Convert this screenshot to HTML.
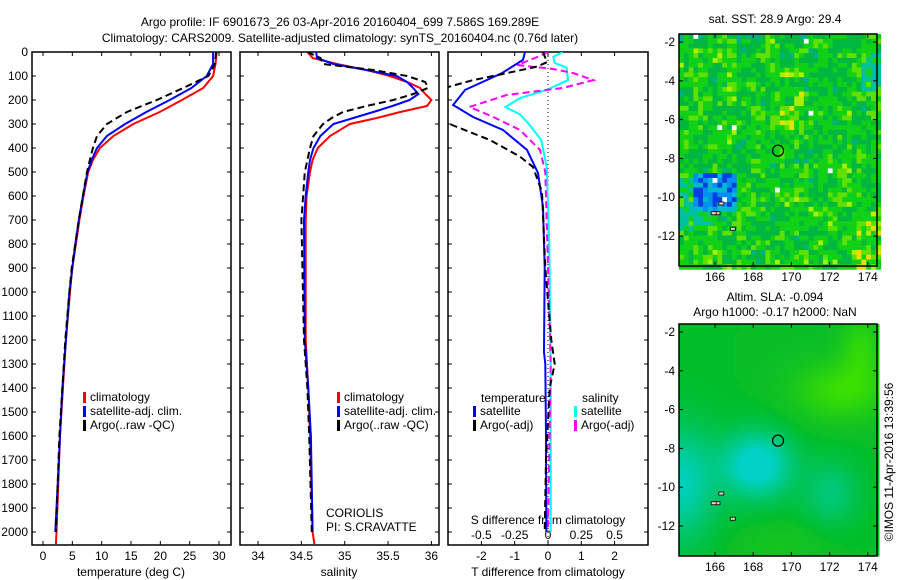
<!DOCTYPE html>
<html><head><meta charset="utf-8">
<style>
body{margin:0;background:#fff;}
svg{display:block;font-family:"Liberation Sans",sans-serif;font-size:12px;}
</style></head>
<body>
<svg id="fig" width="900" height="580" viewBox="0 0 900 580"></svg>
<script>
// ---- data ----
const tempDepth = [0,50,100,150,200,250,300,350,400,450,500,600,700,800,900,1000,1200,1400,1600,1800,2000,2050];
const tempClim  = [29.6,29.4,29.0,27.3,23.7,19.9,15.4,12.0,9.7,8.5,7.7,6.9,6.2,5.6,5.0,4.6,3.9,3.4,2.9,2.6,2.3,2.2];
const tempSat   = [29.0,29.0,27.9,25.3,21.6,17.6,14.0,10.9,9.2,8.3,7.6,6.8,6.1,5.5,5.0,4.5,3.9,3.3,2.9,2.5,2.1];
const tempArgo  = [29.5,29.3,28.2,23.9,19.4,14.3,10.9,9.2,8.5,8.0,7.5,6.8,6.1,5.5,4.9,4.5,3.8,3.3,2.8,2.5,2.2];
const salDepth  = [0,25,50,75,100,125,150,175,200,225,250,275,300,350,400,450,500,600,700,1200,1400,1600,2000,2050];
const salClim   = [34.57,34.63,34.91,35.25,35.52,35.72,35.87,35.93,36.0,35.95,35.64,35.37,35.06,34.83,34.69,34.63,34.6,34.56,34.55,34.55,34.58,34.6,34.63,34.65];
const salSat    = [34.67,34.68,34.87,35.25,35.6,35.72,35.79,35.85,35.75,35.55,35.33,35.1,34.87,34.72,34.64,34.6,34.58,34.55,34.53,34.54,34.58,34.61,34.63];
const salArgo   = [34.57,34.72,34.75,35.33,35.72,35.93,35.96,35.79,35.56,35.25,34.98,34.85,34.75,34.64,34.6,34.57,34.54,34.52,34.5,34.53,34.57,34.59,34.62];
const dtDepth   = [0,33,88,158,221,271,325,408,504,646,900,1250,1300,1600,2000];
const dtSat     = [-0.69,-0.75,-1.38,-2.49,-2.85,-2.25,-1.35,-0.63,-0.30,-0.15,-0.10,-0.12,-0.08,-0.06,-0.05];
const daDepth   = [0,42,61,88,117,146,200,260,304,367,436,479,583,900,1200,1300,1400,1700,2000];
const dtArgo    = [-0.15,-0.03,-0.33,-1.23,-2.25,-3.0,-3.6,-3.6,-2.88,-1.74,-0.84,-0.45,-0.18,-0.08,0.1,0.2,0.05,-0.06,-0.1];
const dsDepth   = [0,20,46,65,117,158,192,229,260,296,367,479,800,1300,2000];
const dsSat     = [0.11,0.04,0.05,0.14,0.15,-0.01,-0.21,-0.32,-0.21,-0.15,-0.05,-0.01,0.01,0.02,0.02];
const dmDepth   = [0,21,54,71,88,117,150,179,229,271,325,408,500,1300,2000];
const dsArgo    = [0.0,-0.08,-0.23,0.04,0.19,0.34,0.11,-0.31,-0.59,-0.41,-0.21,-0.06,-0.02,0.02,0.0];
const depthTicks = [0,100,200,300,400,500,600,700,800,900,1000,1100,1200,1300,1400,1500,1600,1700,1800,1900,2000];
const tempTicks = [0,5,10,15,20,25,30];
const salTicks = [34,34.5,35,35.5,36];
const dtTicks = [-2,-1,0,1,2];
const dsTicks = [-0.5,-0.25,0,0.25,0.5];
const latTicks = [-2,-4,-6,-8,-10,-12];
const lonTicks = [166,168,170,172,174];
const floatLon = 169.3, floatLat = -7.6;

const NS="http://www.w3.org/2000/svg";
const svg=document.getElementById('fig');
function el(tag,attrs,parent){const e=document.createElementNS(NS,tag);for(const k in attrs)e.setAttribute(k,attrs[k]);(parent||svg).appendChild(e);return e;}
function txt(x,y,s,anchor,parent){const t=el('text',{x:x,y:y,'text-anchor':anchor||'start',fill:'#000'},parent);t.textContent=s;return t;}

// scales
const Y=d=>52+d*0.24;
const TX=v=>43+v*(176/30);
const SX=v=>258+(v-34)*86.7;
const DX=v=>548+v*33.3;
const DSX=v=>548+v*133.2;

const defs=el('defs',{});
[['c1',32,231],['c2',240,439],['c3',448,648]].forEach(c=>{const cp=el('clipPath',{id:c[0]},defs);el('rect',{x:c[1],y:52,width:c[2]-c[1],height:493},cp);});

function line(depths,vals,xs,color,dash,clip,name,w){
  const pts=vals.map((v,i)=>xs(v).toFixed(1)+','+Y(depths[i]).toFixed(1)).join(' ');
  const p=el('polyline',{points:pts,fill:'none',stroke:color,'stroke-width':w||2,'clip-path':'url(#'+clip+')'});
  if(dash)p.setAttribute('stroke-dasharray',dash);
  
  
  return p;
}
function panel(x0,x1,name){
  const r=el('rect',{x:x0,y:52,width:x1-x0,height:493,fill:'none',stroke:'#000','stroke-width':1.5});
  
  
  depthTicks.forEach(d=>{el('line',{x1:x0,x2:x0+4,y1:Y(d),y2:Y(d),stroke:'#000'});el('line',{x1:x1-4,x2:x1,y1:Y(d),y2:Y(d),stroke:'#000'});});
}
const t1=txt(340,26,'Argo profile: IF 6901673_26 03-Apr-2016 20160404_699 7.586S 169.289E','middle');


const t2=txt(340,42,'Climatology: CARS2009. Satellite-adjusted climatology: synTS_20160404.nc (0.76d later)','middle');



// panel 1
panel(32,231,'temperature-panel');
depthTicks.forEach(d=>{const t=txt(28,Y(d)+4,String(d),'end');});
tempTicks.forEach(v=>{el('line',{x1:TX(v),x2:TX(v),y1:545,y2:541,stroke:'#000'});el('line',{x1:TX(v),x2:TX(v),y1:52,y2:56,stroke:'#000'});const t=txt(TX(v),560,String(v),'middle');});
const xt1=txt(131,576,'temperature (deg C)','middle');
line(tempDepth,tempClim,TX,'#ff0000',null,'c1','temp-climatology-line');
line(tempDepth.slice(0,tempSat.length),tempSat,TX,'#0000ff',null,'c1','temp-satellite-line');
line(tempDepth.slice(0,tempArgo.length),tempArgo,TX,'#000',"7,4",'c1','temp-argo-line');

// panel 2
panel(240,439,'salinity-panel');
salTicks.forEach(v=>{el('line',{x1:SX(v),x2:SX(v),y1:545,y2:541,stroke:'#000'});el('line',{x1:SX(v),x2:SX(v),y1:52,y2:56,stroke:'#000'});const t=txt(SX(v),560,String(v),'middle');});
const xt2=txt(339,576,'salinity','middle');
line(salDepth,salClim,SX,'#ff0000',null,'c2','sal-climatology-line');
line(salDepth.slice(0,salSat.length),salSat,SX,'#0000ff',null,'c2','sal-satellite-line');
line(salDepth.slice(0,salArgo.length),salArgo,SX,'#000',"7,4",'c2','sal-argo-line');

function legend(x,y,color,label,name){
  const g=el('g',{});
  
  
  el('rect',{x:x,y:y-9,width:3,height:11,fill:color},g);
  txt(x+7,y,label,'start',g);
}
legend(83,401,'#ff0000','climatology','legend-climatology');
legend(83,415,'#0000ff','satellite-adj. clim.','legend-satellite');
legend(83,429,'#000','Argo(..raw -QC)','legend-argo');
legend(337,401,'#ff0000','climatology','legend2-climatology');
legend(337,415,'#0000ff','satellite-adj. clim.','legend2-satellite');
legend(337,429,'#000','Argo(..raw -QC)','legend2-argo');
const co=txt(326,517,'CORIOLIS');
const pi=txt(326,531,'PI: S.CRAVATTE');

// panel 3
panel(448,648,'difference-panel');
el('line',{x1:548,x2:548,y1:52,y2:545,stroke:'#000','stroke-dasharray':'1,3'});
dtTicks.forEach(v=>{el('line',{x1:DX(v),x2:DX(v),y1:545,y2:541,stroke:'#000'});el('line',{x1:DX(v),x2:DX(v),y1:52,y2:56,stroke:'#000'});const t=txt(DX(v),560,String(v),'middle');});
dsTicks.forEach(v=>{const t=txt(DSX(v),539,String(v),'middle');});
const st=txt(548,524,'S difference from climatology','middle');
const tt=txt(548,576,'T difference from climatology','middle');
line(dsDepth,dsSat,DSX,'#00ffff',null,'c3','sdiff-satellite-line');
line(dmDepth,dsArgo,DSX,'#ff00ff',"7,4",'c3','sdiff-argo-line');
line(dtDepth,dtSat,DX,'#0000ff',null,'c3','tdiff-satellite-line');
line(daDepth,dtArgo,DX,'#000',"7,4",'c3','tdiff-argo-line');
const lt=txt(481,402,'temperature');
const ls=txt(582,402,'salinity');
legend(473,415,'#0000ff','satellite','legend3-t-satellite');
legend(473,429,'#000','Argo(-adj)','legend3-t-argo');
legend(574,415,'#00ffff','satellite','legend3-s-satellite');
legend(574,429,'#ff00ff','Argo(-adj)','legend3-s-argo');

// ---- maps ----
const LX=l=>715+(l-166)*19.1;
function hash(i,j,s){let h=(i*374761393+j*668265263+s*2147483647)|0;h=(h^(h>>>13))*1274126177|0;h=h^(h>>>16);return ((h>>>0)%10000)/10000;}
function map(top,name,kind){
  const g=el('g',{});
  
  
  const x0=679,x1=877,y1=top+232;
  const LY=l=>top+8+(-2-l)*19.4;
  const cs=kind==='sst'?4.8:4;
  const nx=Math.ceil((x1-x0)/cs),ny=Math.ceil((y1-top)/cs);
  for(let i=0;i<nx;i++)for(let j=0;j<ny;j++){
    let col;
    if(kind==='sst'){
      const r=hash(i,j,1);const base=hash(Math.floor(i/3),Math.floor(j/3),2);
      let v=r*0.6+base*0.4;
      if(i>36&&j>36)v+=0.25;
      if(i>18&&i<26&&j>6&&j<20)v+=0.15;
      const blue=(i>=3&&i<=11&&j>=29&&j<=36);
      const teal=(i<=6&&j>=30&&j<=40)||(i>=38&&j>=4&&j<=12);
      if(r>0.997)col='#ffffff';
      else if(blue)col=r<0.3?'#0040e0':(r<0.7?'#0090f0':'#00b8d0');
      else if(teal&&r<0.6)col='#00c0a0';
      else if(v<0.12)col='#00b088';
      else if(v<0.45)col='#00b840';
      else if(v<0.75)col='#10d018';
      else if(v<0.9)col='#60e000';
      else if(v<0.98)col='#a8f000';
      else col='#e8e000';
    }else{
      const fx=i/nx,fy=j/ny;
      let v=0.5+0.45*Math.exp(-((fx-0.8)**2/0.05+(fy-0.28)**2/0.015))+0.35*Math.exp(-((fx-0.9)**2/0.01+(fy-0.1)**2/0.02))
        -0.6*Math.exp(-((fx-0.38)**2/0.03+(fy-0.6)**2/0.02))-0.45*Math.exp(-((fx)**2/0.03+(fy-0.68)**2/0.06))
        -0.25*Math.exp(-((fx-0.75)**2/0.02+(fy-0.72)**2/0.02))+0.1*Math.exp(-((fx-0.5)**2/0.05+(fy-0.95)**2/0.01));
      v=Math.max(0,Math.min(1,v));
      let r,gg,b;
      if(v>=0.5){const t=(v-0.5)*2;r=Math.round(10+50*t);gg=Math.round(190+34*t);b=Math.round(40*(1-t));}
      else{const t=(0.5-v)*2;r=0;gg=Math.round(190+20*t);b=Math.round(40+160*t);}
      col='rgb('+r+','+gg+','+b+')';
    }
    el('rect',{x:x0+i*cs,y:top+j*cs,width:cs+0.5,height:cs+0.5,fill:col},g);
  }
  el('rect',{x:x0,y:top,width:x1-x0,height:y1-top,fill:'none',stroke:'#000','stroke-width':1.5},g);
  latTicks.forEach(l=>{el('line',{x1:x0,x2:x0+4,y1:LY(l),y2:LY(l),stroke:'#000'},g);el('line',{x1:x1-4,x2:x1,y1:LY(l),y2:LY(l),stroke:'#000'},g);txt(x0-4,LY(l)+4,String(l),'end',g);});
  lonTicks.forEach(l=>{el('line',{x1:LX(l),x2:LX(l),y1:y1,y2:y1-4,stroke:'#000'},g);el('line',{x1:LX(l),x2:LX(l),y1:top,y2:top+4,stroke:'#000'},g);txt(LX(l),y1+15,String(l),'middle',g);});
  const c=el('circle',{cx:LX(floatLon),cy:LY(floatLat),r:5.5,fill:'none',stroke:'#000','stroke-width':1.2},g);
  
  
  [[166,-10.8],[165.8,-10.8],[166.8,-11.6],[166.2,-10.3]].forEach(p=>el('rect',{x:LX(p[0]),y:LY(p[1])-1,width:5,height:3,fill:'#f0d0c0',stroke:'#000','stroke-width':0.8},g));
}
map(34,'sst-map','sst');
const mt1=txt(775,23,'sat. SST: 28.9 Argo: 29.4','middle');
map(324,'sla-map','sla');
const mt2=txt(775,301,'Altim. SLA: -0.094','middle');
const mt3=txt(775,316,'Argo h1000: -0.17 h2000: NaN','middle');
const cr=txt(0,0,'©IMOS 11-Apr-2016 13:39:56','middle');
cr.setAttribute('transform','translate(893,462) rotate(-90)');


</script>
</body></html>
